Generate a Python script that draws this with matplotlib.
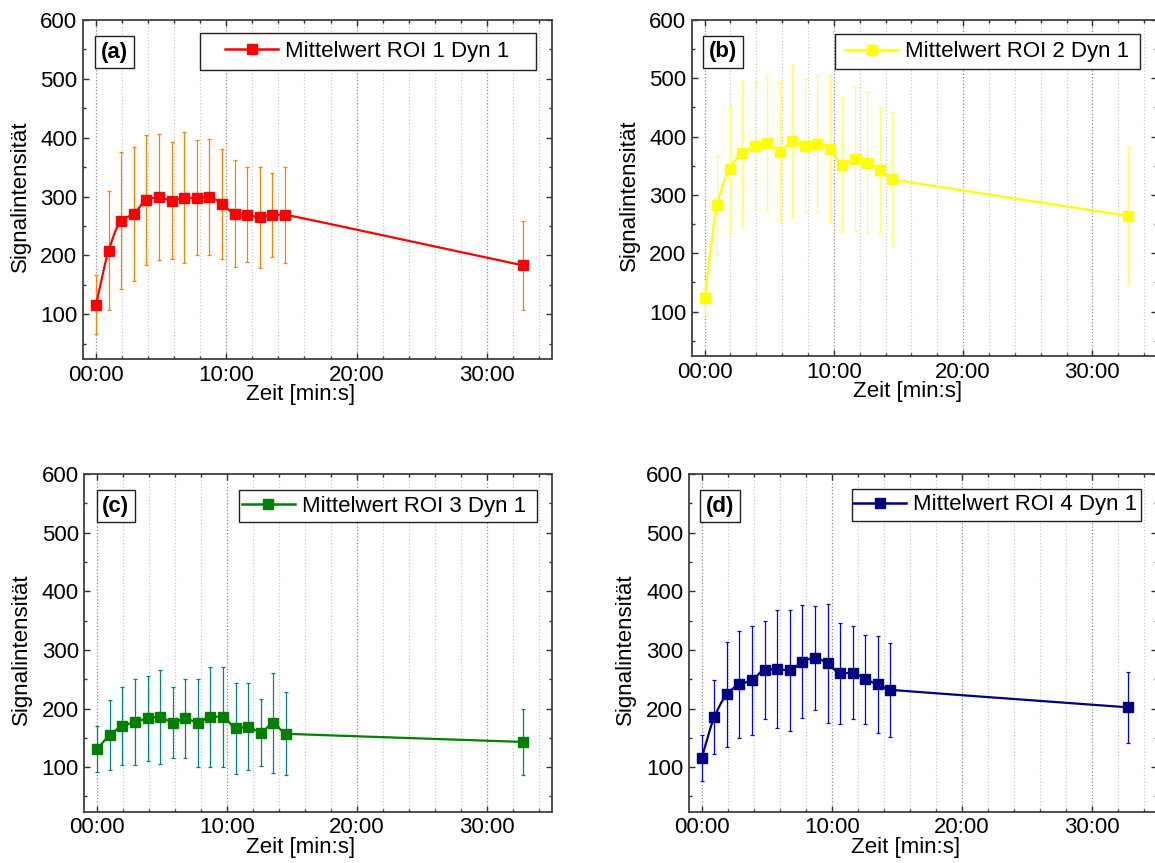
import numpy as np
import matplotlib
matplotlib.use('Agg')
import matplotlib.pyplot as plt
from matplotlib.ticker import MultipleLocator, FuncFormatter
from matplotlib.lines import Line2D
from matplotlib.patches import Rectangle

plt.rcParams['font.family'] = ['Liberation Sans', 'DejaVu Sans']
plt.rcParams['font.size'] = 16

# Messzeitpunkte in Sekunden
zeit = [0, 58, 116, 174, 232, 290, 348, 406, 464, 522, 581, 639, 697, 754, 812, 870, 1966]

roi1_mean = [116, 208, 259, 271, 294, 299, 293, 298, 298, 299, 287, 271, 269, 265, 269, 269, 183]
roi1_std = [50, 101, 116, 114, 110, 107, 99, 111, 98, 98, 93, 91, 81, 86, 71, 82, 76]

roi2_mean = [123, 282, 345, 372, 384, 389, 374, 392, 384, 388, 379, 351, 362, 355, 343, 327, 264]
roi2_std = [29, 84, 110, 125, 109, 116, 120, 130, 114, 118, 127, 115, 123, 121, 108, 115, 118]

roi3_mean = [131, 155, 170, 177, 183, 186, 176, 183, 176, 186, 186, 166, 169, 159, 175, 157, 143]
roi3_std = [40, 60, 67, 73, 72, 80, 60, 67, 75, 85, 85, 78, 74, 57, 85, 71, 57]

roi4_mean = [116, 185, 224, 241, 248, 266, 267, 265, 280, 286, 277, 260, 261, 250, 241, 232, 202]
roi4_std = [39, 63, 89, 92, 93, 84, 101, 103, 96, 89, 102, 86, 79, 76, 82, 80, 61]

tags = ['(a)', '(b)', '(c)', '(d)']
labels = ['Mittelwert ROI 1 Dyn 1', 'Mittelwert ROI 2 Dyn 1',
          'Mittelwert ROI 3 Dyn 1', 'Mittelwert ROI 4 Dyn 1']
means = [roi1_mean, roi2_mean, roi3_mean, roi4_mean]
stds = [roi1_std, roi2_std, roi3_std, roi4_std]
line_colors = ['#FF0000', '#FFFF00', '#008000', '#000080']
err_colors = ['#FF8000', '#FFFF66', '#008080', '#0000FF']


def mmss(sec, pos):
    sec = int(round(sec))
    return '%02d:%02d' % (sec // 60, sec % 60)


def smooth_curve(x, y, n=40):
    # piecewise bezier through the points, shape preserving slopes
    x = np.asarray(x, float)
    y = np.asarray(y, float)
    h = np.diff(x)
    d = np.diff(y) / h
    m = np.zeros_like(y)
    m[0] = d[0]
    m[-1] = d[-1]
    for k in range(1, len(x) - 1):
        if d[k - 1] * d[k] > 0:
            w1 = 2 * h[k] + h[k - 1]
            w2 = h[k] + 2 * h[k - 1]
            m[k] = (w1 + w2) / (w1 / d[k - 1] + w2 / d[k])
    a = np.empty_like(x)
    a[0] = h[0] / 3
    a[-1] = h[-1] / 3
    a[1:-1] = np.minimum(h[:-1], h[1:]) / 3
    t = np.linspace(0, 1, n)
    b0 = (1 - t) ** 3
    b1 = 3 * t * (1 - t) ** 2
    b2 = 3 * t ** 2 * (1 - t)
    b3 = t ** 3
    xs, ys = [], []
    for i in range(len(x) - 1):
        px = [x[i], x[i] + a[i], x[i + 1] - a[i + 1], x[i + 1]]
        py = [y[i], y[i] + m[i] * a[i], y[i + 1] - m[i + 1] * a[i + 1], y[i + 1]]
        xs.append(b0 * px[0] + b1 * px[1] + b2 * px[2] + b3 * px[3])
        ys.append(b0 * py[0] + b1 * py[1] + b2 * py[2] + b3 * py[3])
    return np.concatenate(xs), np.concatenate(ys)


W, H = 1155, 863
# axes boxes in pixels: left, top, right, bottom
ax_px = [(83, 20, 552, 359), (691.7, 20, 1157, 356),
         (84.3, 474, 552, 811.7), (688.7, 474, 1157, 811.7)]
# legend frames in axes fractions: x0, y0, x1, y1 and start of legend handle
leg_box = [(0.2495, 0.8525, 0.9659, 0.9617), (0.308, 0.853, 0.964, 0.957),
           (0.331, 0.857, 0.967, 0.9526), (0.348, 0.861, 0.965, 0.9556)]
leg_x = [0.3028, 0.3295, 0.3366, 0.351]

fig = plt.figure(figsize=(W / 100, H / 100), dpi=100)

for i in range(4):
    l, t, r, b = ax_px[i]
    ax = fig.add_axes([l / W, 1 - b / H, (r - l) / W, (b - t) / H])
    c = line_colors[i]

    ax.errorbar(zeit, means[i], yerr=stds[i], fmt='none', ecolor=err_colors[i],
                elinewidth=0.9, capsize=1.6, capthick=0.9, zorder=2)
    xs, ys = smooth_curve(zeit, means[i])
    ax.plot(xs, ys, color=c, lw=1.6, zorder=3)
    ax.plot(zeit, means[i], 's', color=c, ms=6.5, zorder=4)

    ax.set_xlim(-60, 2100)
    ax.set_ylim(24, 600)
    ax.xaxis.set_major_locator(MultipleLocator(600))
    ax.xaxis.set_minor_locator(MultipleLocator(120))
    ax.xaxis.set_major_formatter(FuncFormatter(mmss))
    ax.yaxis.set_major_locator(MultipleLocator(100))
    ax.yaxis.set_minor_locator(MultipleLocator(50))

    ax.set_axisbelow(True)
    ax.grid(True, which='major', axis='x', color='#8a8a8a', ls=':', lw=0.9)
    ax.grid(True, which='minor', axis='x', color='#c8c8c8', ls=':', lw=0.9)

    ax.tick_params(which='both', direction='in', top=True, right=True,
                   width=1.0, color='#303030')
    ax.tick_params(which='major', length=4, pad=4)
    ax.tick_params(which='minor', length=2.2)
    for s in ax.spines.values():
        s.set_linewidth(1.3)
        s.set_color('#404040')

    ax.set_xlabel('Zeit [min:s]')
    ax.set_ylabel('Signalintensität')
    ax.xaxis.set_label_coords(0.463, -0.075)
    ax.yaxis.set_label_coords(-0.112, 0.48)

    # panel tag
    ax.text(0.067, 0.905, tags[i], transform=ax.transAxes, ha='center', va='center',
            fontweight='bold', zorder=6,
            bbox=dict(boxstyle='square,pad=0.25', fc='white', ec='#202020', lw=1.0))

    # legend with its own frame
    x0, y0, x1, y1 = leg_box[i]
    ax.add_patch(Rectangle((x0, y0), x1 - x0, y1 - y0, transform=ax.transAxes,
                           fc='white', ec='#202020', lw=1.0, zorder=6))
    handle = Line2D([], [], color=c, lw=1.8, marker='s', ms=7.5)
    leg = ax.legend([handle], [labels[i]], loc='center left',
                    bbox_to_anchor=(leg_x[i], (y0 + y1) / 2), frameon=False,
                    borderpad=0, borderaxespad=0, handlelength=2.4, handletextpad=0.3)
    leg.set_zorder(7)

fig.savefig('out.png', dpi=100)
